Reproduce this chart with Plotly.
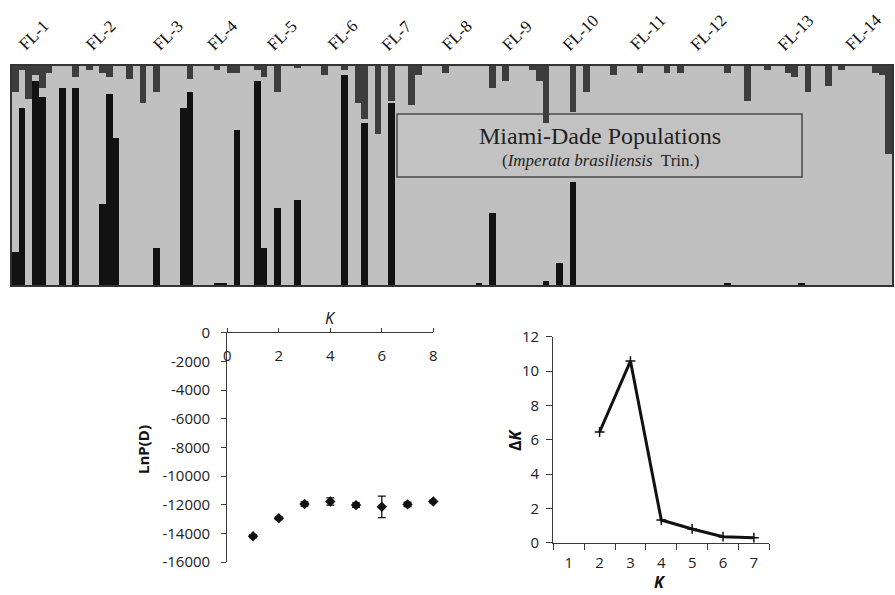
import plotly.graph_objects as go

# ---------------- data ----------------
# STRUCTURE membership (K=3) per individual: black cluster (from bottom), dark-grey cluster (from top);
# remainder is the light-grey cluster
black = [0.15, 0.81, 0, 0.93, 0.86, 0, 0, 0.90, 0, 0.90,
         0, 0, 0, 0.37, 0.87, 0.67, 0, 0, 0, 0,
         0, 0.17, 0, 0, 0, 0.81, 0.88, 0, 0, 0,
         0.01, 0.01, 0, 0.71, 0, 0, 0.93, 0.17, 0, 0.35,
         0, 0, 0.39, 0, 0, 0, 0, 0, 0, 0.96,
         0, 0, 0.74, 0, 0, 0, 0.83, 0, 0, 0,
         0, 0, 0, 0, 0, 0, 0, 0, 0, 0.01,
         0, 0.33, 0, 0, 0, 0, 0, 0, 0, 0.02,
         0, 0.10, 0, 0.47, 0, 0, 0, 0, 0, 0,
         0, 0, 0, 0, 0, 0, 0, 0, 0, 0,
         0, 0, 0, 0, 0, 0, 0.01, 0, 0, 0,
         0, 0, 0, 0, 0, 0, 0, 0.01, 0, 0,
         0, 0, 0, 0, 0, 0, 0, 0, 0, 0,
         0]
dark = [0.12, 0.02, 0.15, 0.04, 0.10, 0.03, 0, 0, 0, 0.05,
        0, 0.02, 0, 0.03, 0.05, 0, 0, 0.06, 0, 0.17,
        0, 0.12, 0, 0, 0, 0, 0.06, 0, 0, 0,
        0.02, 0, 0.03, 0.03, 0, 0, 0.02, 0.05, 0, 0.12,
        0, 0, 0.01, 0, 0, 0, 0.04, 0, 0, 0.02,
        0, 0.17, 0.24, 0, 0.31, 0, 0.16, 0, 0, 0.18,
        0.04, 0, 0, 0, 0.03, 0, 0, 0, 0, 0,
        0, 0.10, 0, 0.07, 0, 0, 0, 0.02, 0.07, 0.26,
        0, 0, 0, 0.21, 0, 0.12, 0, 0, 0, 0.04,
        0, 0, 0, 0.03, 0, 0, 0, 0.03, 0, 0.03,
        0, 0, 0, 0, 0, 0, 0.03, 0, 0, 0.16,
        0, 0, 0.02, 0, 0, 0.03, 0.05, 0, 0.12, 0,
        0, 0.09, 0, 0.02, 0, 0, 0, 0, 0.03, 0.04,
        0.40]
individuals = list(range(len(black)))

populations = ["FL-1", "FL-2", "FL-3", "FL-4", "FL-5", "FL-6", "FL-7",
               "FL-8", "FL-9", "FL-10", "FL-11", "FL-12", "FL-13", "FL-14"]
pop_start = [0, 10, 20, 28, 37, 46, 54, 63, 72, 81, 91, 100, 113, 123]

# LnP(D) vs K
k_lnp = [1, 2, 3, 4, 5, 6, 7, 8]
lnp_mean = [-14200, -12950, -11950, -11780, -12030, -12150, -11980, -11780]
lnp_sd = [100, 100, 150, 250, 150, 750, 150, 100]
lnp_ticks = [0, -2000, -4000, -6000, -8000, -10000, -12000, -14000, -16000]
lnp_ticktext = ["0", "-2000", "-4000", "-6000", "-8000", "-10000", "-12000", "-14000", "-16000"]
k_ticks_left = [0, 2, 4, 6, 8]

# Delta K vs K
k_delta = [2, 3, 4, 5, 6, 7]
delta_k = [6.45, 10.58, 1.32, 0.80, 0.35, 0.29]
k_ticks_right = [1, 2, 3, 4, 5, 6, 7]
k_bounds_right = [0.5, 1.5, 2.5, 3.5, 4.5, 5.5, 6.5, 7.5]

# ---------------- figure ----------------
W, H = 895, 595
def px(x): return x / W
def py(y): return 1 - y / H

LIGHT = "#c0c0c0"
AX = "#3a3a3a"
TICKFONT = dict(family="Open Sans", size=15, color="#222")

fig = go.Figure()
fig.add_trace(go.Bar(x=individuals, y=black, marker_color="#121212", marker_line_width=0,
                     xaxis="x", yaxis="y", showlegend=False, hoverinfo="skip"))
fig.add_trace(go.Bar(x=individuals, y=dark, marker_color="#3d3d3d", marker_line_width=0,
                     xaxis="x", yaxis="y2", showlegend=False, hoverinfo="skip"))

fig.add_trace(go.Scatter(x=k_lnp, y=lnp_mean, mode="markers", xaxis="x2", yaxis="y3",
                         marker=dict(symbol="diamond", size=8, color="#111"),
                         error_y=dict(type="data", array=lnp_sd, color="#111", thickness=1.3, width=4),
                         cliponaxis=False, showlegend=False))

fig.add_trace(go.Scatter(x=k_delta, y=delta_k, mode="lines+markers", xaxis="x3", yaxis="y4",
                         line=dict(color="#111", width=3),
                         marker=dict(symbol="cross-thin", size=7, color="#111",
                                     line=dict(color="#111", width=1.5)),
                         cliponaxis=False, showlegend=False))

annotations = []
for name, s in zip(populations, pop_start):
    annotations.append(dict(x=s - 0.5, y=py(57), xref="x", yref="paper", text=name,
                            showarrow=False, textangle=-45, xanchor="left", yanchor="bottom",
                            font=dict(family="Liberation Serif", size=17, color="#111")))
C = dict(xanchor="center", yanchor="middle", showarrow=False, xref="paper", yref="paper")
annotations += [
    dict(x=px(600), y=py(136), text="Miami-Dade Populations",
         font=dict(family="Liberation Serif", size=24, color="#222"), **C),
    dict(x=px(600), y=py(161), text="(<i>Imperata brasiliensis</i>  Trin.)",
         font=dict(family="Liberation Serif", size=17, color="#222"), **C),
    dict(x=px(330), y=py(318), text="<i>K</i>",
         font=dict(family="Open Sans", size=16, color="#111"), **C),
    dict(x=px(143), y=py(450), text="<b>LnP(D)</b>", textangle=-90,
         font=dict(family="Open Sans", size=15, color="#111"), **C),
    dict(x=px(515), y=py(440), text="<b>Δ<i>K</i></b>", textangle=-90,
         font=dict(family="Open Sans", size=16, color="#111"), **C),
    dict(x=px(660), y=py(582), text="<b><i>K</i></b>",
         font=dict(family="Open Sans", size=16, color="#111"), **C),
]

shapes = [
    dict(type="rect", xref="x domain", yref="y domain", x0=0, x1=1, y0=0, y1=1,
         fillcolor=LIGHT, line=dict(width=0), layer="below"),
    dict(type="rect", xref="paper", yref="paper", x0=px(397), x1=px(802), y0=py(177), y1=py(114),
         fillcolor="#c2c2c2", line=dict(color="#4a4a4a", width=1.5), layer="below"),
]

common = dict(automargin=False, showgrid=False, zeroline=False)

fig.update_layout(
    width=W, height=H, margin=dict(l=0, r=0, t=0, b=0, pad=0, autoexpand=False),
    paper_bgcolor="white", plot_bgcolor="rgba(0,0,0,0)",
    barmode="overlay", bargap=0,
    annotations=annotations, shapes=shapes,
    xaxis=dict(domain=[px(12), px(892)], anchor="y", range=[-0.5, len(black) - 0.5],
               showticklabels=False, ticks="",
               showline=True, mirror=True, linecolor="#333", linewidth=1.5, **common),
    yaxis=dict(domain=[py(285), py(66)], anchor="x", range=[0, 1], showticklabels=False,
               ticks="", showline=True, mirror=True, linecolor="#333", linewidth=1.5, **common),
    yaxis2=dict(overlaying="y", anchor="x", range=[1, 0], visible=False, **common),
    xaxis2=dict(domain=[px(227.3), px(433.3)], anchor="y3", side="top", range=[0, 8],
                tickvals=k_ticks_left, ticks="outside", ticklen=4, tickcolor=AX,
                ticklabelposition="inside", ticklabelstandoff=18, ticklabeloverflow="allow",
                tickfont=TICKFONT, showline=True, linecolor=AX, linewidth=1.3, **common),
    yaxis3=dict(domain=[py(562), py(332.7)], anchor="x2", range=[-16000, 0],
                tickvals=lnp_ticks, ticktext=lnp_ticktext, ticks="outside", ticklen=5,
                tickcolor=AX, ticklabelstandoff=8, ticklabeloverflow="allow", tickfont=TICKFONT,
                showline=True, linecolor=AX, linewidth=1.3, **common),
    xaxis3=dict(domain=[px(553.3), px(769.3)], anchor="y4", range=[0.5, 7.5],
                tickvals=k_ticks_right, ticks="", tickfont=TICKFONT, ticklabelstandoff=6,
                minor=dict(tickvals=k_bounds_right, ticks="outside", ticklen=6, tickcolor=AX,
                           showgrid=False),
                showline=True, linecolor=AX, linewidth=1.3, **common),
    yaxis4=dict(domain=[py(542.7), py(336.7)], anchor="x3", range=[0, 12], dtick=2,
                ticks="outside", ticklen=6, tickcolor=AX, ticklabelstandoff=4, tickfont=TICKFONT,
                showline=True, linecolor=AX, linewidth=1.3, **common),
)

fig.write_html("out.html", config={"displayModeBar": False},
               post_script="document.body.style.margin='0';document.body.style.overflow='hidden';")
